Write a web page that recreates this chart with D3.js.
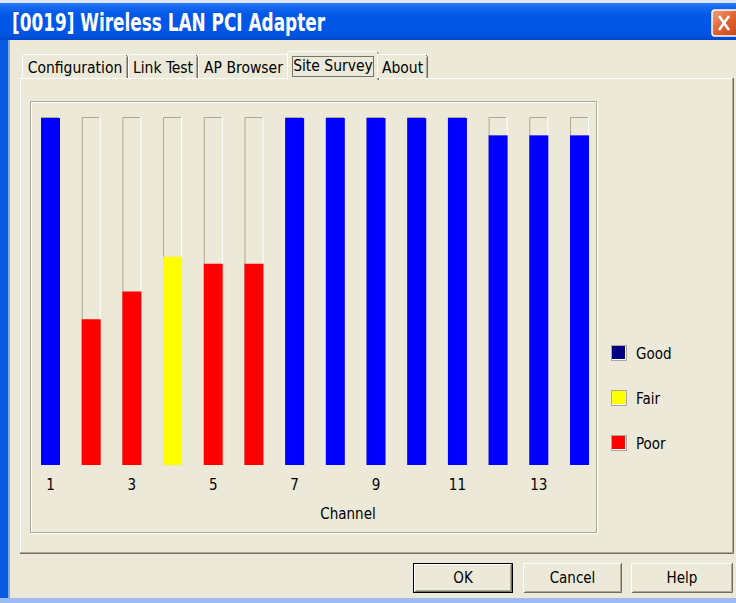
<!DOCTYPE html>
<html>
<head>
<meta charset="utf-8">
<script src="https://cdn.jsdelivr.net/npm/d3@7"></script>
<style>
  html, body { margin: 0; padding: 0; background: #ECE9D8; }
  svg { display: block; }
  text { font-family: "DejaVu Sans Condensed", "Liberation Sans", sans-serif; fill: #000; }
</style>
</head>
<body>
<div id="chart"></div>
<script>
// signal strength per channel
const channels = [1, 2, 3, 4, 5, 6, 7, 8, 9, 10, 11, 12, 13, 14]
const signal = [100, 42, 50, 60, 58, 58, 100, 100, 100, 100, 100, 95, 95, 95]
const quality = ['Good', 'Poor', 'Poor', 'Fair', 'Poor', 'Poor', 'Good', 'Good', 'Good', 'Good', 'Good', 'Good', 'Good', 'Good']
const tickChannels = [1, 3, 5, 7, 9, 11, 13]
const legendLabels = ['Good', 'Fair', 'Poor']
const tabLabels = ['Configuration', 'Link Test', 'AP Browser', 'Site Survey', 'About']
const buttonLabels = ['OK', 'Cancel', 'Help']
const titleText = '[0019] Wireless LAN PCI Adapter'

const barColor = { Good: '#0000FF', Fair: '#FFFF00', Poor: '#FF0000' }
const legendColor = { Good: '#000080', Fair: '#FFFF00', Poor: '#FF0000' }

const width = 736
const height = 603
const bg = '#ECE9D8'
const uiFont = '"DejaVu Sans Condensed", "Liberation Sans", sans-serif'
const fontSize = '15px'

const svg = d3.select('#chart').append('svg')
    .attr('width', width)
    .attr('height', height)

const defs = svg.append('defs')
const tg = defs.append('linearGradient').attr('id', 'titleGrad')
    .attr('x1', 0).attr('y1', 0).attr('x2', 0).attr('y2', 1)
const titleStops = [[0, '#2A7BF4'], [0.12, '#1468F0'], [0.3, '#0358E6'], [0.7, '#0256E8'], [0.9, '#0251DC'], [1, '#0048C8']]
titleStops.forEach(s => tg.append('stop').attr('offset', s[0]).attr('stop-color', s[1]))

const cg = defs.append('linearGradient').attr('id', 'closeGrad')
    .attr('x1', 0).attr('y1', 0).attr('x2', 1).attr('y2', 1)
cg.append('stop').attr('offset', 0).attr('stop-color', '#F0A080')
cg.append('stop').attr('offset', 0.5).attr('stop-color', '#E0602E')
cg.append('stop').attr('offset', 1).attr('stop-color', '#C4401A')

// ---- window frame ----
svg.append('rect').attr('width', width).attr('height', height).attr('fill', bg)
svg.append('rect').attr('x', 0).attr('y', 0).attr('width', 8).attr('height', height).attr('fill', '#0A5BE4')
svg.append('rect').attr('x', 8).attr('y', 39).attr('width', 2).attr('height', height - 39).attr('fill', '#7FA8EE')
svg.append('rect').attr('x', 0).attr('y', 598).attr('width', width).attr('height', 5).attr('fill', '#9DBCF2')
svg.append('rect').attr('x', 0).attr('y', 3).attr('width', width).attr('height', 37).attr('fill', 'url(#titleGrad)')
svg.append('rect').attr('x', 0).attr('y', 0).attr('width', width).attr('height', 3).attr('fill', '#DCE6F6')

svg.append('text')
    .attr('x', 12)
    .attr('y', 31)
    .attr('textLength', 313)
    .attr('lengthAdjust', 'spacingAndGlyphs')
    .style('font-size', '24px')
    .style('font-weight', 'bold')
    .style('fill', '#FFFFFF')
    .text(titleText)

// close button
const close = svg.append('g').attr('transform', 'translate(712,10)')
close.append('rect').attr('width', 30).attr('height', 26).attr('rx', 3)
    .attr('fill', 'url(#closeGrad)').attr('stroke', '#FFFFFF').attr('stroke-width', 1.5)
close.append('path').attr('d', 'M7,6 L17,20 M17,6 L7,20')
    .attr('stroke', '#FFFFFF').attr('stroke-width', 2.6)

// ---- tab panel ----
const panel = { x: 20, y: 78, w: 713, h: 475 }
svg.append('rect').attr('x', panel.x + 0.5).attr('y', panel.y + 0.5)
    .attr('width', panel.w).attr('height', panel.h)
    .attr('fill', bg).attr('stroke', '#FFFFFF')
svg.append('path')
    .attr('d', `M${panel.x + panel.w - 0.5},${panel.y} V${panel.y + panel.h - 0.5} H${panel.x}`)
    .attr('fill', 'none').attr('stroke', '#ACA899')
svg.append('path')
    .attr('d', `M${panel.x + panel.w + 0.5},${panel.y} V${panel.y + panel.h + 0.5} H${panel.x}`)
    .attr('fill', 'none').attr('stroke', '#716F64')

// tabs
const tabEdges = [22, 128, 198, 289, 377, 428]
const selectedTab = 3
const tabs = svg.append('g').selectAll('g')
    .data(tabLabels)
    .join('g')
tabs.each(function (d, i) {
    const g = d3.select(this)
    const sel = i === selectedTab
    const x0 = tabEdges[i] - (sel ? 2 : 0)
    const x1 = tabEdges[i + 1] + (sel ? 2 : 0)
    const top = sel ? 51 : 54
    const bottom = sel ? 80 : 78
    g.append('rect').attr('x', x0).attr('y', top).attr('width', x1 - x0).attr('height', bottom - top)
        .attr('fill', bg)
    g.append('path')
        .attr('d', `M${x0 + 0.5},${bottom} V${top + 2} L${x0 + 2},${top + 0.5} H${x1 - 2}`)
        .attr('fill', 'none').attr('stroke', '#FFFFFF')
    g.append('path')
        .attr('d', `M${x1 - 2},${top + 1} L${x1 - 0.5},${top + 2.5} V${bottom}`)
        .attr('fill', 'none').attr('stroke', '#716F64')
    g.append('path')
        .attr('d', `M${x1 - 1.5},${top + 3} V${bottom}`)
        .attr('fill', 'none').attr('stroke', '#ACA899')
    g.append('text')
        .attr('x', (x0 + x1) / 2)
        .attr('y', sel ? 66 : 68)
        .attr('dy', '0.35em')
        .attr('text-anchor', 'middle')
        .style('font-size', '15.5px')
        .text(d)
    if (sel) {
        g.append('rect').attr('x', x0 + 5.5).attr('y', 56.5).attr('width', x1 - x0 - 11).attr('height', 20)
            .attr('fill', 'none').attr('stroke', '#000').attr('stroke-dasharray', '1,1')
    }
})

// ---- chart group box ----
const box = { x: 30, y: 101, w: 567, h: 432 }
svg.append('rect').attr('x', box.x + 1.5).attr('y', box.y + 1.5).attr('width', box.w - 1).attr('height', box.h - 1)
    .attr('fill', 'none').attr('stroke', '#FFFFFF')
svg.append('rect').attr('x', box.x + 0.5).attr('y', box.y + 0.5).attr('width', box.w - 1).attr('height', box.h - 1)
    .attr('fill', 'none').attr('stroke', '#ACA899')

const x = d3.scaleBand()
    .domain(channels)
    .range([41, 589])
    .paddingInner(0.533)
    .paddingOuter(0)

const y = d3.scaleLinear()
    .domain([0, 100])
    .range([465, 118])

const data = channels.map((c, i) => ({ channel: c, value: signal[i], quality: quality[i] }))

// empty sunken tracks behind each bar
const tracks = svg.append('g').selectAll('g')
    .data(data)
    .join('g')
    .attr('transform', d => `translate(${x(d.channel)},0)`)
tracks.append('path')
    .attr('d', `M0.5,${y(0)} V${y(100) - 0.5} H${x.bandwidth() - 1}`)
    .attr('fill', 'none').attr('stroke', '#ACA899')
tracks.append('path')
    .attr('d', `M${x.bandwidth() - 0.5},${y(100) - 1} V${y(0)}`)
    .attr('fill', 'none').attr('stroke', '#FFFFFF')

svg.append('g').selectAll('rect')
    .data(data)
    .join('rect')
    .attr('x', d => x(d.channel))
    .attr('y', d => y(d.value))
    .attr('width', x.bandwidth())
    .attr('height', d => y(0) - y(d.value))
    .attr('fill', d => barColor[d.quality])

const xAxis = d3.axisBottom(x)
    .tickValues(tickChannels)
    .tickSize(0)
    .tickPadding(14)
const axisG = svg.append('g')
    .attr('transform', `translate(0,${y(0)})`)
    .call(xAxis)
axisG.select('.domain').remove()
axisG.selectAll('text')
    .style('font-size', fontSize)
    .style('font-family', uiFont)
    .attr('fill', '#000')

svg.append('text')
    .attr('x', 348)
    .attr('y', 514)
    .attr('dy', '0.35em')
    .attr('text-anchor', 'middle')
    .style('font-size', fontSize)
    .text('Channel')

// ---- legend ----
const legend = svg.append('g').selectAll('g')
    .data(legendLabels)
    .join('g')
    .attr('transform', (d, i) => `translate(611,${345 + i * 45})`)
legend.append('rect')
    .attr('x', 0.5).attr('y', 0.5).attr('width', 15).attr('height', 15)
    .attr('fill', '#FFFFFF').attr('stroke', '#ACA899')
legend.append('rect')
    .attr('x', 1).attr('y', 1).attr('width', 13).attr('height', 13)
    .attr('fill', d => legendColor[d])
legend.append('text')
    .attr('x', 25)
    .attr('y', 9)
    .attr('dy', '0.35em')
    .style('font-size', fontSize)
    .text(d => d)

// ---- dialog buttons ----
const buttonEdges = [[413, 513], [523, 622], [631, 733]]
const buttons = svg.append('g').selectAll('g')
    .data(buttonLabels)
    .join('g')
    .attr('transform', (d, i) => `translate(${buttonEdges[i][0]},563)`)
buttons.each(function (d, i) {
    const g = d3.select(this)
    const w = buttonEdges[i][1] - buttonEdges[i][0]
    const h = 30
    g.append('rect').attr('width', w).attr('height', h).attr('fill', bg)
    if (i === 0) {
        g.append('rect').attr('x', 0.5).attr('y', 0.5).attr('width', w - 1).attr('height', h - 1)
            .attr('fill', 'none').attr('stroke', '#000')
    }
    const o = i === 0 ? 1 : 0
    g.append('path').attr('d', `M${o + 0.5},${h - o - 1} V${o + 0.5} H${w - o - 1}`)
        .attr('fill', 'none').attr('stroke', '#FFFFFF')
    g.append('path').attr('d', `M${o + 1},${h - o - 0.5} H${w - o - 0.5} V${o}`)
        .attr('fill', 'none').attr('stroke', '#716F64')
    g.append('path').attr('d', `M${o + 2},${h - o - 1.5} H${w - o - 1.5} V${o + 1}`)
        .attr('fill', 'none').attr('stroke', '#ACA899')
    g.append('text')
        .attr('x', w / 2)
        .attr('y', h / 2)
        .attr('dy', '0.35em')
        .attr('text-anchor', 'middle')
        .style('font-size', fontSize)
        .text(d)
})
</script>
</body>
</html>
